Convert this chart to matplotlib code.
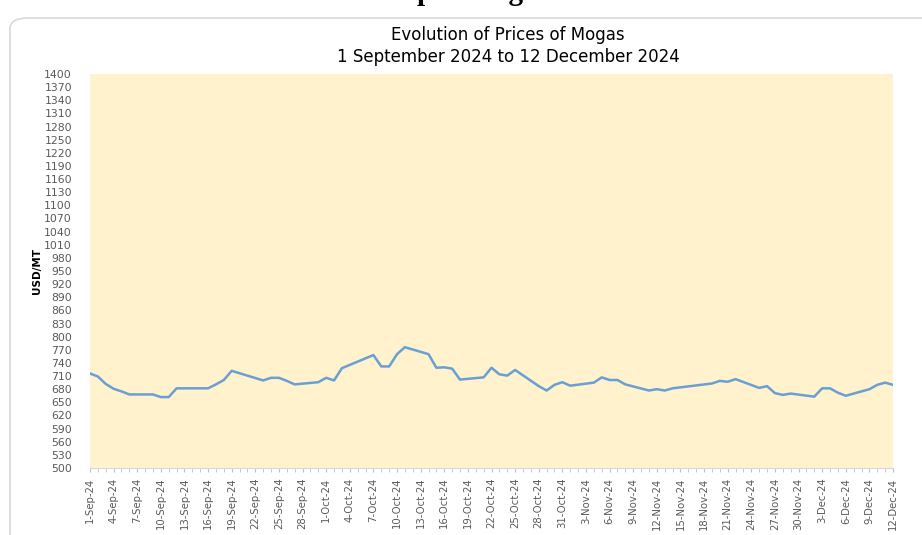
import matplotlib
matplotlib.use("Agg")
import matplotlib.pyplot as plt
import matplotlib.dates as mdates
from matplotlib.patches import FancyBboxPatch
import datetime as dt

dates = ["2024-09-01", "2024-09-02", "2024-09-03", "2024-09-04", "2024-09-05", "2024-09-06",
         "2024-09-09", "2024-09-10", "2024-09-11", "2024-09-12", "2024-09-16", "2024-09-17",
         "2024-09-18", "2024-09-19", "2024-09-23", "2024-09-24", "2024-09-25", "2024-09-26",
         "2024-09-27", "2024-09-30", "2024-10-01", "2024-10-02", "2024-10-03", "2024-10-07",
         "2024-10-08", "2024-10-09", "2024-10-10", "2024-10-11", "2024-10-14", "2024-10-15",
         "2024-10-16", "2024-10-17", "2024-10-18", "2024-10-21", "2024-10-22", "2024-10-23",
         "2024-10-24", "2024-10-25", "2024-10-28", "2024-10-29", "2024-10-30", "2024-10-31",
         "2024-11-01", "2024-11-04", "2024-11-05", "2024-11-06", "2024-11-07", "2024-11-08",
         "2024-11-11", "2024-11-12", "2024-11-13", "2024-11-14", "2024-11-19", "2024-11-20",
         "2024-11-21", "2024-11-22", "2024-11-25", "2024-11-26", "2024-11-27", "2024-11-28",
         "2024-11-29", "2024-12-02", "2024-12-03", "2024-12-04", "2024-12-05", "2024-12-06",
         "2024-12-09", "2024-12-10", "2024-12-11", "2024-12-12"]
prices = [716, 709, 692, 681, 675, 668,
          668, 662, 662, 682, 682, 691,
          701, 722, 700, 706, 706, 699,
          691, 696, 706, 700, 728, 758,
          732, 732, 760, 776, 760, 729,
          730, 727, 702, 707, 729, 714,
          711, 724, 687, 677, 690, 696,
          688, 695, 707, 701, 701, 691,
          677, 680, 677, 682, 693, 699,
          697, 703, 683, 687, 671, 667,
          670, 663, 682, 682, 672, 665,
          680, 690, 695, 690]

title_lines = ["Evolution of Prices of Mogas", "1 September 2024 to 12 December 2024"]
y_label = "USD/MT"
y_min, y_max, y_step = 500, 1400, 30

x = [dt.datetime.strptime(d, "%Y-%m-%d") for d in dates]

W, H = 922, 535
fig = plt.figure(figsize=(W / 100, H / 100), dpi=100)
fig.patch.set_facecolor("white")

# outer chart frame
frame = FancyBboxPatch((10 / W, -0.1), 1.2, (535 - 18) / H + 0.1,
                       boxstyle="round,pad=0,rounding_size=0.02",
                       transform=fig.transFigure, facecolor="white",
                       edgecolor="#d9d9d9", linewidth=1.2, zorder=-5)
fig.patches.append(frame)

# clipped heading above the chart
fig.text(458 / W, 1.0 + 7 / H, "Graph: Mogas", ha="center", va="center",
         fontsize=21, fontweight="bold", family="Liberation Serif", color="black")

ax = fig.add_axes([90 / W, (535 - 468) / H, 803 / W, 394 / H])
ax.set_zorder(2)
ax.set_facecolor("#FFF2CC")
ax.plot(x, prices, color="#6A9FD4", linewidth=1.8, solid_joinstyle="round")

ax.set_xlim(dt.datetime(2024, 9, 1), dt.datetime(2024, 12, 12))
ax.set_ylim(y_min, y_max)
ax.set_yticks(range(y_min, y_max + 1, y_step))

ticks = [dt.datetime(2024, 9, 1) + dt.timedelta(days=3 * i) for i in range(35)]
ax.set_xticks(ticks)
ax.set_xticklabels([f"{t.day}-{t.strftime('%b')}-24" for t in ticks],
                   rotation=90, fontsize=7.3, color="#595959", family="DejaVu Sans Condensed")
ax.xaxis.set_minor_locator(mdates.DayLocator())
ax.tick_params(axis="x", which="both", length=3, color="#bfbfbf", pad=4)
ax.tick_params(axis="y", length=0, labelsize=7.8, labelcolor="#595959", pad=13)
for lab in ax.get_yticklabels():
    lab.set_family("DejaVu Sans Condensed")

for s in ["top", "right", "left"]:
    ax.spines[s].set_visible(False)
ax.spines["bottom"].set_color("#d9d9d9")

ax.set_ylabel(y_label, fontsize=7.5, fontweight="bold", color="black")
ax.yaxis.set_label_coords(-48 / 803, 0.5)

fig.text(508 / W, 1 - 35 / H, title_lines[0], ha="center", va="center", fontsize=12, color="black")
fig.text(508 / W, 1 - 57 / H, title_lines[1], ha="center", va="center", fontsize=12, color="black")

fig.savefig("out.png", dpi=100, facecolor="white")
